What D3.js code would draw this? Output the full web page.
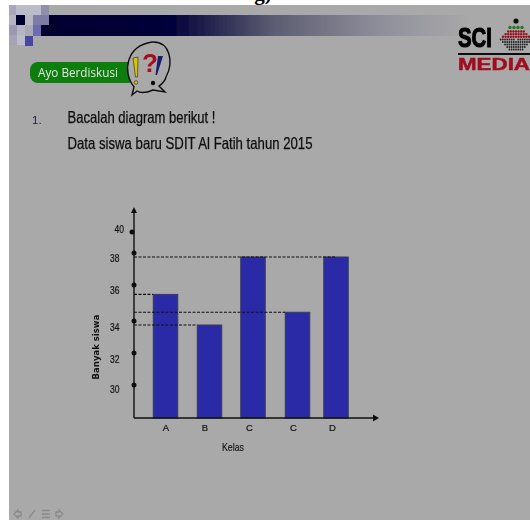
<!DOCTYPE html>
<html><head><meta charset="utf-8">
<script src="https://cdnjs.cloudflare.com/ajax/libs/d3/7.8.5/d3.min.js"></script>
<style>html,body{margin:0;padding:0;background:#fff}svg{display:block}</style></head>
<body><div id="c"></div>
<script>
const categories = ["A","B","C","C","D"];
const values = [35.8,34,38,34.75,38];
const guideValues = [38,35.8,34.75,34];
const tickValues = [40,38,36,34,32,30];
const yTitle = "Banyak siswa", xTitle = "Kelas";
const heading = "Ayo Berdiskusi", number = "1.";
const lines = ["Bacalah diagram berikut !","Data siswa baru SDIT Al Fatih tahun 2015"];

const W=530,H=520, sans="'Liberation Sans',Arial,sans-serif", dj="'DejaVu Sans',sans-serif";
const svg=d3.select("#c").append("svg").attr("width",W).attr("height",H);
const defs=svg.append("defs");
const g1=defs.append("linearGradient").attr("id","band");
[[0,"#00002e"],[0.3,"#00003a"],[0.55,"#5f5f74"],[0.8,"#90909c"],[1,"#a9a9a9"]].forEach(s=>g1.append("stop").attr("offset",s[0]).attr("stop-color",s[1]));
const m1=defs.append("linearGradient").attr("id","pale");
[[0,"#8e8ea8"],[1,"#c4c4d0"]].forEach(s=>m1.append("stop").attr("offset",s[0]).attr("stop-color",s[1]));
defs.append("filter").attr("id","soft").append("feGaussianBlur").attr("stdDeviation",0.5);

svg.append("rect").attr("width",W).attr("height",H).attr("fill","#fff");
svg.append("text").attr("x",263).attr("y",0).attr("text-anchor","middle").attr("font-family","'Liberation Serif',serif").attr("font-weight","bold").attr("font-size",21).attr("fill","#000").text("g)");
const page=svg.append("g").attr("filter","url(#soft)");
page.append("rect").attr("x",9).attr("y",5).attr("width",W-9).attr("height",H-5).attr("fill","#a9a9a9");

// header band + mosaic
page.append("rect").attr("x",40).attr("y",15).attr("width",430).attr("height",21).attr("fill","url(#band)");
[[9,5,7,10,"#a8a8bc"],[16,5,25,10,"#bcbcc8"],[41,5,8,10,"#9090a8"],
 [9,15,7,10,"#b4b4c4"],[16,15,9,10,"#00002e"],[25,15,8,10,"#b8b8c4"],[33,15,16,10,"#7c7ca4"],
 [9,25,8,10,"#9a9ab0"],[17,25,8,10,"#b4b4c2"],[25,25,8,10,"#a8a8b8"],[33,25,8,11,"#6c6cae"],
 [9,35,8,10,"#a4a4b6"],[17,35,8,10,"#bcbcc8"],[25,36,8,10,"#4646a0"]].forEach(d=>page.append("rect").attr("x",d[0]).attr("y",d[1]).attr("width",d[2]).attr("height",d[3]).attr("fill",d[4]));

// heading pill + bubble
page.append("rect").attr("x",30).attr("y",62).attr("width",106).attr("height",21).attr("rx",8).attr("fill","#0d7d0d");
page.append("text").attr("x",38).attr("y",77).attr("font-family","'Open Sans',sans-serif").attr("font-size",12.5).attr("textLength",80).attr("lengthAdjust","spacingAndGlyphs").attr("fill","#e6e6e6").text(heading);
page.append("path").attr("d","M132 95 L134 87 C122 72 126 46 152 42 C170 41 174 62 166 77 C165 81 162 84 159 86 L165 92 L153 90 C146 93 140 93 137 91 Z").attr("fill","#a9a9a9").attr("stroke","#111").attr("stroke-width",1.4);
page.append("path").attr("d","M133 58 L138 57 L137.5 77 L135.5 77 Z").attr("fill","#d9c400").attr("stroke","#222").attr("stroke-width",.6);
page.append("circle").attr("cx",136).attr("cy",82.5).attr("r",1.8).attr("fill","#d9c400").attr("stroke","#222").attr("stroke-width",.6);
page.append("text").attr("x",142).attr("y",72).attr("font-family",sans).attr("font-size",26).attr("font-weight","bold").attr("fill","#a80f1a").text("?");
page.append("path").attr("d","M158 56 L163 56 L157 75 L155.5 75 Z").attr("fill","#1c1c70");
page.append("circle").attr("cx",153).attr("cy",83).attr("r",2.2).attr("fill","#111");

// logo
page.append("text").attr("x",458).attr("y",47).attr("font-family",sans).attr("font-size",28).attr("font-weight","bold").attr("textLength",34).attr("lengthAdjust","spacingAndGlyphs").attr("fill","#000").attr("stroke","#000").attr("stroke-width",1.1).text("SCI");
page.append("rect").attr("x",458).attr("y",53).attr("width",72).attr("height",2).attr("fill","#111");
page.append("text").attr("x",458).attr("y",70).attr("font-family",sans).attr("font-size",17).attr("font-weight","bold").attr("textLength",72).attr("lengthAdjust","spacingAndGlyphs").attr("fill","#a01020").attr("stroke","#a01020").attr("stroke-width",.5).text("MEDIA");
const dots=[[516,21,"#111",2.6],[510,27.5,"#1e7a1e",1.7],[514,27.5,"#1e7a1e",1.7],[518,27.5,"#1e7a1e",1.7],[522,27.5,"#1e7a1e",1.7]];
for(let r=0;r<3;r++)for(let i=-3-r;i<=3+r;i++)dots.push([516+i*2.6,31.5+r*2.6,"#9c1020",1.2]);
for(let r=0;r<5;r++)for(let i=-7+r;i<=7-r;i++)if(r>0||Math.abs(i)>0)dots.push([516+i*2.2,39.5+r*2.5,"#222",.9]);
dots.forEach(d=>page.append("circle").attr("cx",d[0]).attr("cy",d[1]).attr("r",d[3]).attr("fill",d[2]));

// text
page.append("text").attr("x",32).attr("y",124).attr("font-family",sans).attr("font-size",11.5).attr("fill","#1c1c48").text(number);
lines.forEach((t,i)=>page.append("text").attr("x",67.5).attr("y",[123,149][i]).attr("font-family",sans).attr("font-size",16.5).attr("textLength",[148,245][i]).attr("lengthAdjust","spacingAndGlyphs").attr("fill","#0c0c0c").attr("stroke","#0c0c0c").attr("stroke-width",.25).text(t));

// chart
const xAxisX=134, base=418;
const idx=categories.map((_,i)=>i);
const x=d3.scaleOrdinal().domain(idx).range([165.5,209.5,253,297.5,336]);
const y=d3.scaleLinear().domain([34,38]).range([325,257]);
const bw=24.5;
const chart=page.append("g");
chart.selectAll("rect.bar").data(values).join("rect").attr("class","bar")
 .attr("x",(d,i)=>x(i)-bw/2).attr("width",bw).attr("y",d=>y(d)).attr("height",d=>base-y(d))
 .attr("fill","#2b2ba6").attr("stroke","#3a3a5c").attr("stroke-width",1);
// guides
const guideEnd=d3.scaleOrdinal().domain(guideValues).range([336,153,285,197]);
chart.selectAll("line.g").data(guideValues).join("line").attr("x1",xAxisX).attr("x2",d=>guideEnd(d))
 .attr("y1",d=>y(d)).attr("y2",d=>y(d)).attr("stroke","#111").attr("stroke-width",1.1).attr("stroke-dasharray","3,1.5");
// axes
chart.append("line").attr("x1",xAxisX).attr("x2",xAxisX).attr("y1",base).attr("y2",212).attr("stroke","#111").attr("stroke-width",1.4);
chart.append("line").attr("x1",xAxisX).attr("x2",374).attr("y1",base).attr("y2",base).attr("stroke","#111").attr("stroke-width",1.4);
chart.append("path").attr("d",`M${xAxisX-3} 213L${xAxisX} 207L${xAxisX+3} 213Z`).attr("fill","#111");
chart.append("path").attr("d",`M373 ${base-3.5}L379 ${base}L373 ${base+3.5}Z`).attr("fill","#111");
// ticks (hand-placed dots in the original, so not evenly spaced)
const dotY=d3.scaleOrdinal().domain(tickValues).range([232,253,285,321,353,385]);
const dotX=d3.scaleOrdinal().domain(tickValues).range([132,134,134,134,134,134]);
const labY=d3.scaleOrdinal().domain(tickValues).range([229,258,290,327,359,389]);
const labX=d3.scaleOrdinal().domain(tickValues).range([124,119.5,119.5,119.5,119.5,119.5]);
chart.selectAll("circle.t").data(tickValues).join("circle").attr("class","t").attr("cx",d=>dotX(d)).attr("cy",d=>dotY(d)).attr("r",2.5).attr("fill","#111");
chart.selectAll("text.t").data(tickValues).join("text").attr("class","t").attr("x",d=>labX(d)-9.5).attr("y",d=>labY(d)).attr("dy","0.35em")
 .attr("font-family",sans).attr("font-size",11).attr("textLength",9.5).attr("lengthAdjust","spacingAndGlyphs").attr("fill","#111").attr("stroke","#111").attr("stroke-width",.2).text(d=>d);
chart.selectAll("text.c").data(categories).join("text").attr("class","c").attr("x",(d,i)=>[166,205,249.5,293.5,332.5][i]).attr("y",428).attr("dy","0.35em").attr("text-anchor","middle")
 .attr("font-family",sans).attr("font-size",9.5).attr("fill","#111").attr("stroke","#111").attr("stroke-width",.2).text(d=>d);
chart.append("text").attr("x",222).attr("y",447).attr("dy","0.35em").attr("font-family",sans).attr("font-size",11).attr("textLength",22).attr("lengthAdjust","spacingAndGlyphs").attr("fill","#111").attr("stroke","#111").attr("stroke-width",.15).text(xTitle);
chart.append("text").attr("transform","translate(96.5,347) rotate(-90)").attr("dy","0.35em").attr("text-anchor","middle").attr("font-family",dj).attr("font-size",8.5).attr("fill","#111").attr("font-weight","bold").text(yTitle);

// footer nav glyphs
const nav=page.append("g").attr("stroke","#8a8a8a").attr("fill","none").attr("stroke-width",1.3);
nav.append("path").attr("d","M14 514L18 510V512H21V516H18V518Z");
nav.append("path").attr("d","M29 518L35 510");
nav.append("path").attr("d","M42 510.5H50M42 514H50M42 517.5H50");
nav.append("path").attr("d","M63 514L59 510V512H56V516H59V518Z");
</script></body></html>
